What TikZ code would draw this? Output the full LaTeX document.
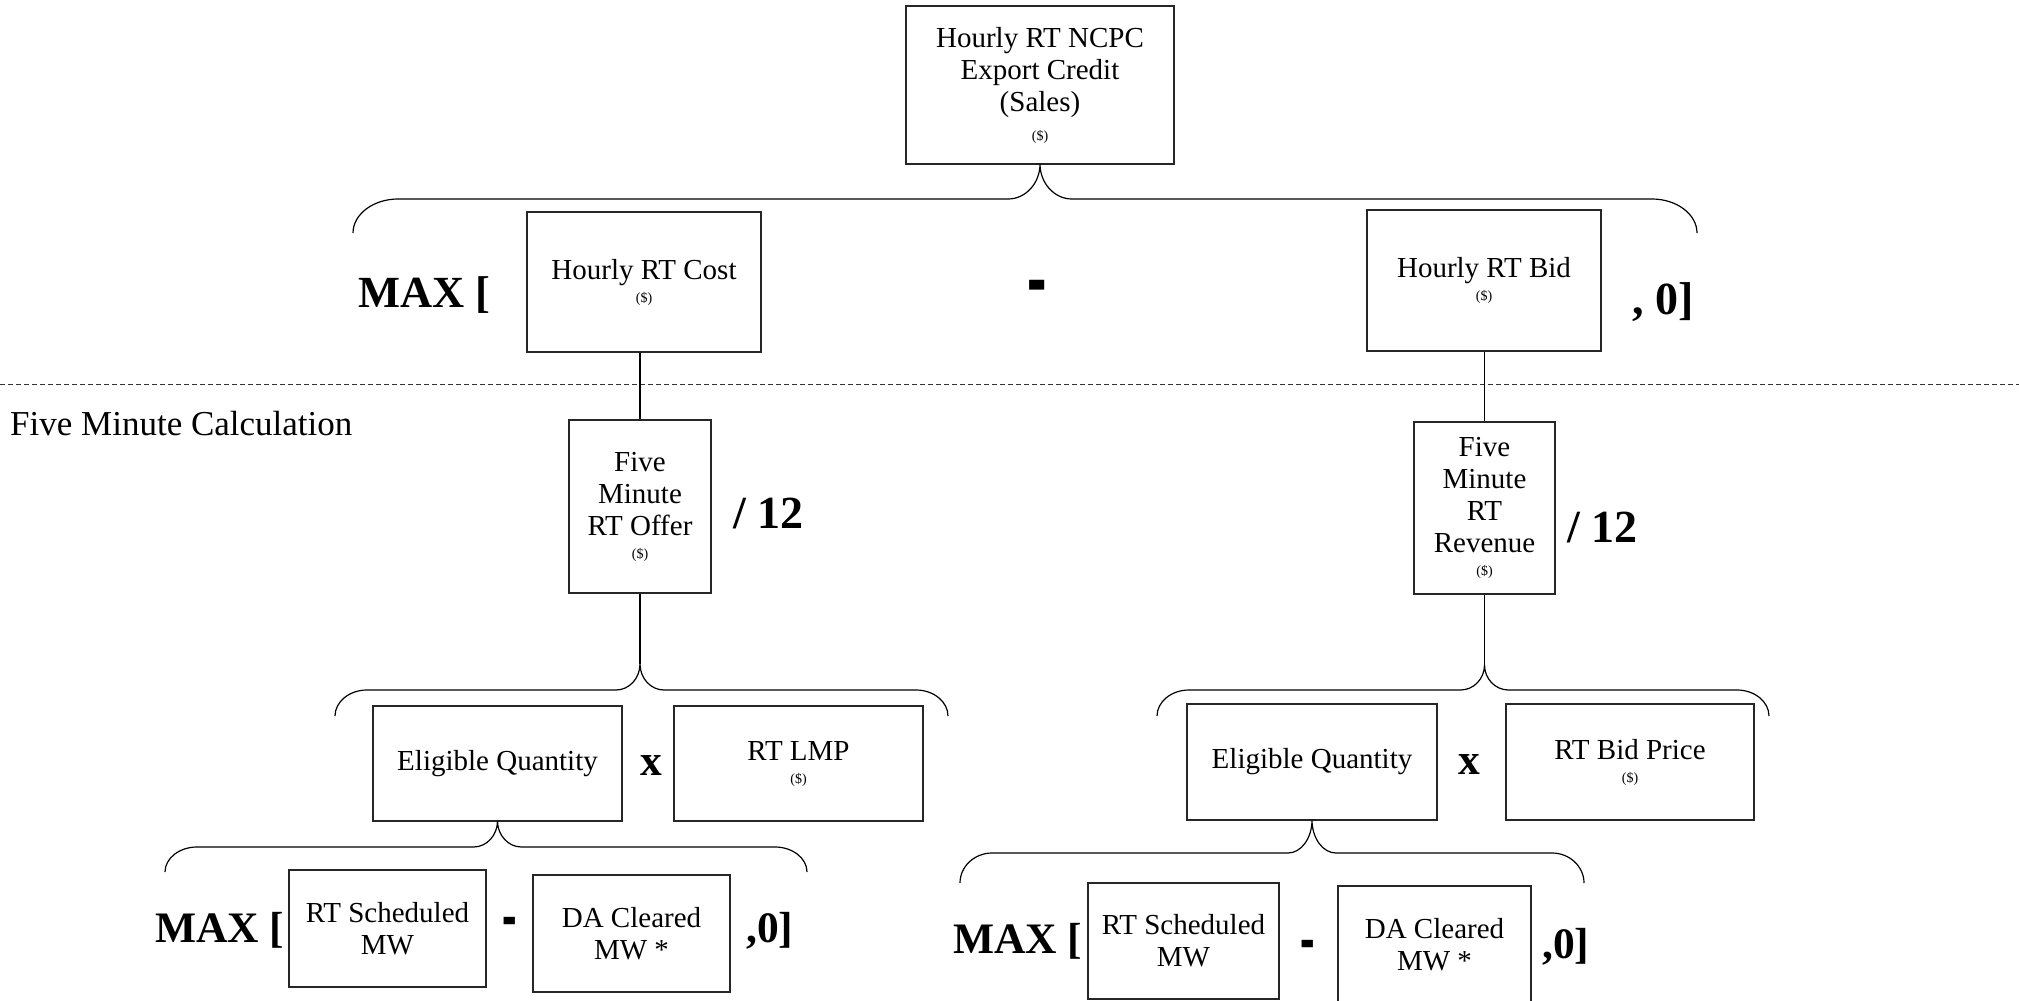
\documentclass[tikz,border=0pt]{standalone}
\usepackage{fontspec}
\setmainfont{Liberation Serif}
\usetikzlibrary{calc}

% small "($)" unit line under a box title
\newcommand{\unitlabel}{{\fontsize{14}{16}\selectfont(\$)}}
% heavy minus sign between two terms
\newcommand{\heavyminus}{\scalebox{1}[2]{-}}

% curly brace in the style of a word-processor bracket:
% #1 left x, #2 right x, #3 tip x, #4 tip y, #5 bar y, #6 end y, #7 outer corner, #8 inner corner
\newcommand{\wordbrace}[8]{%
  \draw[bracestyle] (#1,#6) .. controls (#1,{#6-0.55*(#6-#5)}) and ({#1+0.45*#7},#5) .. ({#1+#7},#5)
    -- ({#3-#8},#5) .. controls ({#3-0.45*#8},#5) and (#3,{#4+0.55*(#5-#4)}) .. (#3,#4)
    .. controls (#3,{#4+0.55*(#5-#4)}) and ({#3+0.45*#8},#5) .. ({#3+#8},#5)
    -- ({#2-#7},#5) .. controls ({#2-0.45*#7},#5) and (#2,{#6-0.55*(#6-#5)}) .. (#2,#6);
}

\tikzset{
  box/.style={draw=black!85, line width=1.2pt, inner sep=0pt, align=center,
    font=\fontsize{29}{32}\selectfont},
  bracestyle/.style={line width=1.2pt, black},
  link/.style={line width=1.2pt, black},
  op/.style={inner sep=0pt, font=\fontsize{43.5}{46}\selectfont\bfseries},
  bigop/.style={inner sep=0pt, font=\fontsize{58}{60}\selectfont\bfseries},
  closer/.style={inner sep=0pt, font=\fontsize{46}{50}\selectfont\bfseries},
  divider/.style={line width=1pt, black!80, dash pattern=on 5pt off 3pt},
}

\begin{document}
\begin{tikzpicture}[x=1pt,y=-1pt]
\useasboundingbox (0,0) rectangle (2019,1001);
\clip (0,0) rectangle (2019,1001);

% hourly level
\node[box, minimum width=268, minimum height=158] (top) at (1040,85)
  {Hourly RT NCPC\\Export Credit\\(Sales)\\[-3pt]\unitlabel};
\node[box, minimum width=234, minimum height=140] (cost) at (644,282)
  {Hourly RT Cost\\[-9pt]\unitlabel};
\node[box, minimum width=234, minimum height=141] (bid) at (1484,280.5)
  {Hourly RT Bid\\[-9pt]\unitlabel};

\node[op, font=\fontsize{44.5}{46}\selectfont\bfseries, anchor=base west] (max1) at (358,307) {MAX [};
\node[bigop, anchor=base] (minus1) at (1037,312) {\heavyminus};
\node[closer, anchor=base west] (close1) at (1632,314) {, 0]};

\wordbrace{353}{1697}{1040}{164}{199}{233}{45}{32}

% boundary between hourly and five-minute values
\draw[divider] (0,384) -- (2019,384);
\node[inner sep=0pt, anchor=base west, font=\fontsize{35}{38}\selectfont] (fivelabel) at (10,435.5)
  {Five Minute Calculation};

% five-minute level
\node[box, minimum width=142, minimum height=173] (offer) at (640,506.5)
  {Five\\Minute\\RT Offer\\[-9pt]\unitlabel};
\node[box, minimum width=141, minimum height=172] (revenue) at (1484.5,508)
  {Five\\Minute\\RT\\Revenue\\[-9pt]\unitlabel};
\node[op, font=\fontsize{46}{48}\selectfont\bfseries, anchor=base west] (div1) at (733,528) {/ 12};
\node[op, font=\fontsize{46}{48}\selectfont\bfseries, anchor=base west] (div2) at (1567,542) {/ 12};

\draw[link] (offer.north) -- (offer.north |- cost.south);
\draw[link] (revenue.north) -- (revenue.north |- bid.south);

\coordinate (tipOL) at (640,664);
\coordinate (tipOR) at (1484.5,665);
\draw[link] (offer.south) -- (tipOL);
\draw[link] (revenue.south) -- (tipOR);
\wordbrace{335}{948}{640}{664}{690}{716}{32}{24}
\wordbrace{1157}{1769}{1484.5}{665}{690}{716}{32}{24}

% products
\node[box, minimum width=249, minimum height=115] (eqL) at (497.5,763.5) {Eligible Quantity};
\node[box, minimum width=249, minimum height=115] (lmp) at (798.5,763.5) {RT LMP\\[-9pt]\unitlabel};
\node[op] (timesL) at (651,766) {x};

\node[box, minimum width=250, minimum height=116] (eqR) at (1312,762) {Eligible Quantity};
\node[box, minimum width=248, minimum height=116] (bidprice) at (1630,762) {RT Bid Price\\[-9pt]\unitlabel};
\node[op] (timesR) at (1469,765) {x};

\wordbrace{165}{807}{497.5}{821}{847}{872}{32}{24}
\wordbrace{960}{1584}{1312}{820}{853}{883}{32}{24}

% eligible quantity terms
\node[box, minimum width=197, minimum height=117] (rtsL) at (387.5,928.5) {RT Scheduled\\MW};
\node[box, minimum width=197, minimum height=117] (daL) at (631.5,933.5) {DA Cleared\\MW *};
\node[op, anchor=base west] (max2) at (155,942) {MAX [};
\node[op, anchor=base] (minus2) at (510,941) {\heavyminus};
\node[op, anchor=base west] (close2) at (746,942) {,0]};

\node[box, minimum width=191, minimum height=116] (rtsR) at (1183.5,941) {RT Scheduled\\MW};
\node[box, minimum width=193, minimum height=118] (daR) at (1434.5,945) {DA Cleared\\MW *};
\node[op, anchor=base west] (max3) at (953,953) {MAX [};
\node[op, anchor=base] (minus3) at (1308,964) {\heavyminus};
\node[op, anchor=base west] (close3) at (1542,958) {,0]};
\end{tikzpicture}
\end{document}
